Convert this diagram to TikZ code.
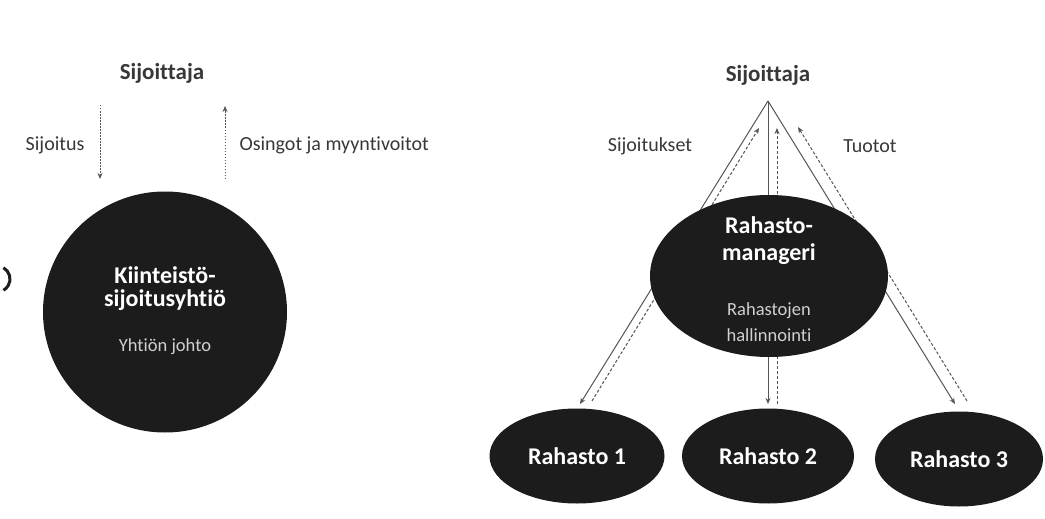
\documentclass[tikz,border=0pt]{standalone}
\usepackage{fontspec}
\setmainfont[Ligatures=NoCommon]{Carlito}
\usetikzlibrary{shapes.geometric,arrows.meta}
\definecolor{blobc}{HTML}{1C1C1C}
\definecolor{txt}{HTML}{383838}
\definecolor{inl}{HTML}{D0D0D0}
\definecolor{linec}{HTML}{555555}
\begin{document}
\begin{tikzpicture}[x=1pt,y=-1pt,
  blob/.style={ellipse,fill=blobc,draw=none,inner sep=0pt},
  title/.style={font=\fontsize{23}{26}\selectfont\bfseries,text=txt},
  lab/.style={font=\fontsize{20}{24}\selectfont,text=txt},
  inb/.style={font=\fontsize{24}{28}\selectfont\bfseries,text=white},
  inr/.style={font=\fontsize{18.5}{22}\selectfont,text=inl},
  tip/.style={-{Stealth[length=6pt,width=5pt]}},
  solidarr/.style={tip,draw=linec,line width=1pt},
  dasharr/.style={tip,draw=linec,line width=1pt,dash pattern=on 3pt off 2pt},
  dotarr/.style={tip,draw=linec,line width=1pt,dash pattern=on 1.5pt off 1.5pt}
]
\useasboundingbox[fill=white] (0,0) rectangle (1045,519);

% fragment at left edge
\draw[line width=3pt,blobc] (-3,279) ++(-60:13) arc[start angle=-60,end angle=60,radius=13];

% ---------- left diagram ----------
\node[title] (inv1) at (162,73) {Sijoittaja};
\coordinate (a1s) at (100,105);
\coordinate (a1e) at (100,179);
\coordinate (a2s) at (225,179);
\coordinate (a2e) at (225,106);
\draw[dotarr] (a1s) -- (a1e);
\draw[dotarr] (a2s) -- (a2e);
\node[lab,anchor=east] (lsij) at (88,145) {Sijoitus};
\node[lab,anchor=west] (losi) at (236,145) {Osingot ja myyntivoitot};

\node[blob,minimum width=244pt,minimum height=241pt] (kiin) at (165,312) {};
\node[inb] (k1) at (165,275) {Kiinteistö-};
\node[inb] (k2) at (165,300) {sijoitusyhtiö};
\node[inr] (k3) at (165,347) {Yhtiön johto};

% ---------- right diagram ----------
\node[title] (inv2) at (768,75) {Sijoittaja};
\node[lab] (lsijs) at (650,146) {Sijoitukset};
\node[lab] (ltuo) at (870,146) {Tuotot};
\coordinate (apex) at (768,101);
\coordinate (t1) at (580,404);
\coordinate (t2) at (768,404);
\coordinate (t3) at (955,404);
\coordinate (d1s) at (592,401);
\coordinate (d1e) at (759,128);
\coordinate (d2s) at (777,404);
\coordinate (d2e) at (777,128);
\coordinate (d3s) at (967,401);
\coordinate (d3e) at (798,127);
\draw[solidarr] (apex) -- (t1);
\draw[solidarr] (apex) -- (t2);
\draw[solidarr] (apex) -- (t3);
\draw[dasharr] (d1s) -- (d1e);
\draw[dasharr] (d2s) -- (d2e);
\draw[dasharr] (d3s) -- (d3e);

\node[blob,minimum width=238pt,minimum height=162pt] (man) at (769,276) {};
\node[inb] (m1) at (769,225) {Rahasto-};
\node[inb] (m2) at (769,254) {manageri};
\node[inr] (m3) at (769,311) {Rahastojen};
\node[inr] (m4) at (769,335) {hallinnointi};

\node[blob,minimum width=175pt,minimum height=95pt,inb] (r1) at (577,456) {Rahasto 1};
\node[blob,minimum width=172pt,minimum height=95pt,inb] (r2) at (768,456) {Rahasto 2};
\node[blob,minimum width=168pt,minimum height=95pt,inb] (r3) at (959,459) {Rahasto 3};
\end{tikzpicture}
\end{document}
